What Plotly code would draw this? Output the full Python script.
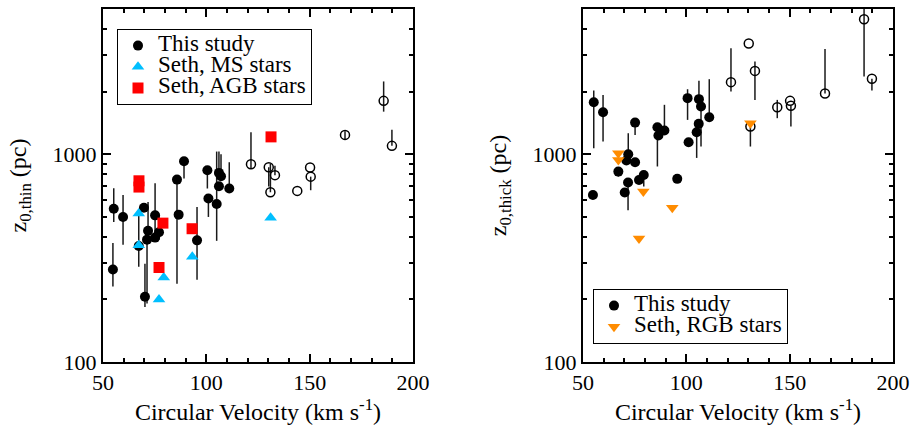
import plotly.graph_objects as go
import numpy as np

# ---------------- Left panel (thin disk) ----------------
thin_v = [54.8, 55.2, 59.7, 67.3, 69.8, 70.3, 71.8, 71.3, 75.2, 75.2, 77.1, 85.8, 86.6, 89.2,
          95.5, 100.5, 101.0, 105.0, 106.1, 107.1, 106.1, 111.1]
thin_z = [279, 546, 499, 362, 553, 206, 428, 388, 508, 397, 421, 755, 512, 925,
          385, 837, 612, 576, 813, 783, 701, 684]
thin_hi = [374, 685, 637, 520, 553, 297, 589, 388, 725, 397, 508, 755, 512, 925,
           557, 837, 612, 1030, 1030, 1000, 701, 915]
thin_lo = [231, 472, 367, 287, 553, 184, 428, 191, 397, 397, 388, 238, 512, 764,
           249, 684, 499, 383, 813, 783, 701, 684]

thin_open_v = [121.6, 130.2, 133.2, 131.0, 144.0, 150.2, 150.5, 167.1, 185.8, 189.8]
thin_open_z = [895, 866, 793, 656, 666, 863, 780, 1239, 1807, 1097]
thin_open_hi = [1276, 866, 880, 900, 666, 863, 780, 1290, 2240, 1310]
thin_open_lo = [853, 700, 793, 656, 666, 863, 671, 1180, 1603, 1097]

ms_v = [67.3, 67.3, 79.4, 77.1, 93.2, 131.1]
ms_z = [518, 365, 255, 200, 321, 495]

agb_v = [67.4, 67.4, 79.0, 93.1, 77.1, 131.3]
agb_z = [745, 695, 466, 438, 285, 1212]

# ---------------- Right panel (thick disk) ----------------
thick_v = [55.2, 59.7, 54.8, 67.1, 70.2, 71.9, 71.0, 71.8, 75.2, 75.2, 77.1, 79.4, 86.0, 86.5,
           89.4, 95.6, 100.6, 101.1, 106.1, 107.1, 106.0, 105.0, 111.1]
thick_z = [1779, 1593, 637, 825, 654, 1000, 932, 731, 1420, 915, 752, 795, 1349, 1230,
           1300, 761, 1862, 1142, 1841, 1698, 1400, 1276, 1507]
thick_hi = [2027, 1930, 637, 825, 654, 1262, 932, 731, 1420, 915, 752, 795, 1349, 1230,
            1729, 761, 2055, 1142, 2255, 1698, 1400, 1276, 2297]
thick_lo = [1069, 1151, 637, 780, 654, 1000, 932, 537, 1239, 915, 752, 700, 873, 1230,
            1300, 761, 1463, 1142, 1841, 1089, 1400, 960, 1507]

thick_open_v = [121.6, 130.2, 131.0, 133.2, 144.0, 150.2, 150.6, 167.1, 186.0, 189.8]
thick_open_z = [2223, 3414, 1359, 2518, 1683, 1807, 1710, 1959, 4467, 2306]
thick_open_hi = [3236, 3414, 1359, 2793, 1826, 1807, 1710, 3208, 5140, 2306]
thick_open_lo = [2003, 3414, 1089, 1826, 1491, 1807, 1359, 1959, 2366, 2027]

rgb_v = [67.1, 67.1, 131.0, 79.2, 93.2, 77.1]
rgb_z = [1011, 939, 1409, 661, 553, 393]

# ---------------- styling ----------------
FONT = "Liberation Serif, Times New Roman, Times, serif"
CYAN = "#00BFFF"
RED = "#FF0000"
ORANGE = "#FF8C00"
ERRC = "#1a1a1a"
LEG_TXT = 23   # visible legend text size
LEG_ROW = 14   # font size that sets legend row spacing


def lg(name):
    return f"<span style='font-size:{LEG_TXT}px'>{name}</span>"


fig = go.Figure()


def err_trace(v, z, hi, lo, xa, ya):
    z = np.array(z, float)
    return go.Scatter(
        x=v, y=z, xaxis=xa, yaxis=ya, mode="markers",
        marker=dict(size=1, opacity=0),
        error_y=dict(type="data", symmetric=False,
                     array=(np.array(hi, float) - z).tolist(),
                     arrayminus=(z - np.array(lo, float)).tolist(),
                     width=0, thickness=1.5, color=ERRC),
        showlegend=False, hoverinfo="skip")


# left panel
fig.add_trace(err_trace(thin_v, thin_z, thin_hi, thin_lo, "x", "y"))
fig.add_trace(err_trace(thin_open_v, thin_open_z, thin_open_hi, thin_open_lo, "x", "y"))
fig.add_trace(go.Scatter(x=thin_open_v, y=thin_open_z, xaxis="x", yaxis="y", mode="markers",
                         marker=dict(symbol="circle-open", size=9, color="black", line=dict(width=1.5)),
                         showlegend=False))
fig.add_trace(go.Scatter(x=thin_v, y=thin_z, xaxis="x", yaxis="y", mode="markers",
                         marker=dict(symbol="circle", size=10, color="black"),
                         name=lg("This study"), legend="legend"))
fig.add_trace(go.Scatter(x=ms_v, y=ms_z, xaxis="x", yaxis="y", mode="markers",
                         marker=dict(symbol="triangle-up", size=11, color=CYAN),
                         name=lg("Seth, MS stars"), legend="legend"))
fig.add_trace(go.Scatter(x=agb_v, y=agb_z, xaxis="x", yaxis="y", mode="markers",
                         marker=dict(symbol="square", size=11, color=RED),
                         name=lg("Seth, AGB stars"), legend="legend"))

# right panel
fig.add_trace(err_trace(thick_v, thick_z, thick_hi, thick_lo, "x2", "y2"))
fig.add_trace(err_trace(thick_open_v, thick_open_z, thick_open_hi, thick_open_lo, "x2", "y2"))
fig.add_trace(go.Scatter(x=thick_open_v, y=thick_open_z, xaxis="x2", yaxis="y2", mode="markers",
                         marker=dict(symbol="circle-open", size=9, color="black", line=dict(width=1.5)),
                         showlegend=False))
fig.add_trace(go.Scatter(x=thick_v, y=thick_z, xaxis="x2", yaxis="y2", mode="markers",
                         marker=dict(symbol="circle", size=10, color="black"),
                         name=lg("This study"), legend="legend2"))
fig.add_trace(go.Scatter(x=rgb_v, y=rgb_z, xaxis="x2", yaxis="y2", mode="markers",
                         marker=dict(symbol="triangle-down", size=11, color=ORANGE),
                         name=lg("Seth, RGB stars"), legend="legend2"))

W, H = 914, 427
ML, MR, MT, MB = 103, 21, 9, 65
PW = W - ML - MR
PH = H - MT - MB
minor_y = [200, 300, 400, 500, 600, 700, 800, 900, 2000, 3000, 4000, 5000]
minor_x = [60, 70, 80, 90, 110, 120, 130, 140, 160, 170, 180, 190]


def xaxis(dom, anchor):
    return dict(domain=dom, anchor=anchor, range=[50, 200], tickvals=[50, 100, 150, 200],
                ticks="inside", ticklen=8, tickwidth=1.5, tickcolor="black",
                showline=True, linecolor="black", linewidth=2, mirror="ticks",
                showgrid=False, zeroline=False, automargin=False,
                minor=dict(tickvals=minor_x, ticks="inside", ticklen=4, tickwidth=1.5,
                           tickcolor="black", showgrid=False),
                tickfont=dict(family=FONT, size=22, color="black"),
                title=dict(text="Circular Velocity (km s<sup>-1</sup>)",
                           font=dict(family=FONT, size=24, color="black"), standoff=2))


def yaxis(anchor, title):
    return dict(domain=[0, 1], anchor=anchor, type="log", range=[2, np.log10(5000)],
                tickvals=[100, 1000], ticktext=["100", "1000"],
                ticks="inside", ticklen=8, tickwidth=1.5, tickcolor="black",
                showline=True, linecolor="black", linewidth=2, mirror="ticks",
                showgrid=False, zeroline=False, automargin=False,
                minor=dict(tickvals=minor_y, ticks="inside", ticklen=4, tickwidth=1.5,
                           tickcolor="black", showgrid=False),
                tickfont=dict(family=FONT, size=22, color="black"),
                title=dict(text=title, font=dict(family=FONT, size=24, color="black"), standoff=19))


def legend_box(x_px, y_px):
    return dict(x=(x_px - ML) / PW, y=1 - (y_px - MT) / PH, xanchor="left", yanchor="top",
                bordercolor="black", borderwidth=1, bgcolor="rgba(255,255,255,0)",
                font=dict(family=FONT, size=LEG_ROW, color="black"), tracegroupgap=0,
                itemwidth=30)


fig.update_layout(
    width=W, height=H, margin=dict(l=ML, r=MR, t=MT, b=MB, autoexpand=False),
    paper_bgcolor="white", plot_bgcolor="white",
    font=dict(family=FONT, size=22, color="black"),
    xaxis=xaxis([0, 310 / PW], "y"),
    yaxis=yaxis("x", "z<sub>0,thin</sub> (pc)"),
    xaxis2=xaxis([(583 - ML) / PW, 1], "y2"),
    yaxis2=yaxis("x2", "z<sub>0,thick</sub> (pc)"),
    legend=legend_box(117, 29),
    legend2=legend_box(593, 289),
    showlegend=True,
)

fig.write_html("out.html", config={"displayModeBar": False},
               post_script="document.body.style.margin='0px';document.body.style.padding='0px';")
